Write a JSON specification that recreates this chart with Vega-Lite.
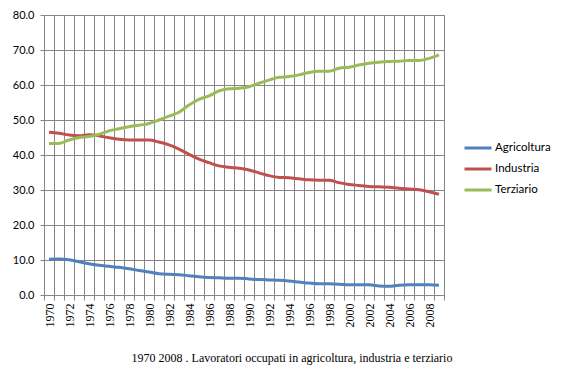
{
  "$schema": "https://vega.github.io/schema/vega-lite/v6.json",
  "autosize": {"type": "none"},
  "width": 400,
  "height": 280,
  "padding": {"left": 44, "top": 15, "right": 123, "bottom": 82},
  "background": "white",
  "config": {
    "view": {"stroke": "#868686", "strokeWidth": 1},
    "font": "Lato"
  },
  "title": {
    "text": "1970 2008 . Lavoratori occupati in agricoltura, industria e terziario",
    "orient": "bottom",
    "anchor": "middle",
    "dx": 48,
    "offset": 26,
    "font": "Liberation Serif",
    "fontSize": 12,
    "fontWeight": "normal",
    "color": "black"
  },
  "data": {
    "values": [
      {"anno": 1970, "Agricoltura": 10.2, "Industria": 46.5, "Terziario": 43.3},
      {"anno": 1971, "Agricoltura": 10.3, "Industria": 46.2, "Terziario": 43.3},
      {"anno": 1972, "Agricoltura": 10.1, "Industria": 45.7, "Terziario": 44.3},
      {"anno": 1973, "Agricoltura": 9.5, "Industria": 45.5, "Terziario": 45.0},
      {"anno": 1974, "Agricoltura": 8.9, "Industria": 45.8, "Terziario": 45.3},
      {"anno": 1975, "Agricoltura": 8.5, "Industria": 45.5, "Terziario": 45.9},
      {"anno": 1976, "Agricoltura": 8.2, "Industria": 44.9, "Terziario": 46.9},
      {"anno": 1977, "Agricoltura": 7.9, "Industria": 44.5, "Terziario": 47.5},
      {"anno": 1978, "Agricoltura": 7.5, "Industria": 44.3, "Terziario": 48.1},
      {"anno": 1979, "Agricoltura": 7.0, "Industria": 44.3, "Terziario": 48.5},
      {"anno": 1980, "Agricoltura": 6.6, "Industria": 44.3, "Terziario": 49.0},
      {"anno": 1981, "Agricoltura": 6.1, "Industria": 43.7, "Terziario": 50.0},
      {"anno": 1982, "Agricoltura": 5.9, "Industria": 42.9, "Terziario": 51.1},
      {"anno": 1983, "Agricoltura": 5.8, "Industria": 41.7, "Terziario": 52.2},
      {"anno": 1984, "Agricoltura": 5.5, "Industria": 40.2, "Terziario": 54.3},
      {"anno": 1985, "Agricoltura": 5.2, "Industria": 38.8, "Terziario": 55.9},
      {"anno": 1986, "Agricoltura": 5.0, "Industria": 37.8, "Terziario": 56.9},
      {"anno": 1987, "Agricoltura": 4.9, "Industria": 36.9, "Terziario": 58.3},
      {"anno": 1988, "Agricoltura": 4.8, "Industria": 36.5, "Terziario": 58.9},
      {"anno": 1989, "Agricoltura": 4.8, "Industria": 36.2, "Terziario": 59.1},
      {"anno": 1990, "Agricoltura": 4.6, "Industria": 35.7, "Terziario": 59.5},
      {"anno": 1991, "Agricoltura": 4.4, "Industria": 34.9, "Terziario": 60.5},
      {"anno": 1992, "Agricoltura": 4.3, "Industria": 34.1, "Terziario": 61.4},
      {"anno": 1993, "Agricoltura": 4.2, "Industria": 33.6, "Terziario": 62.2},
      {"anno": 1994, "Agricoltura": 4.0, "Industria": 33.5, "Terziario": 62.4},
      {"anno": 1995, "Agricoltura": 3.7, "Industria": 33.2, "Terziario": 62.9},
      {"anno": 1996, "Agricoltura": 3.4, "Industria": 32.9, "Terziario": 63.6},
      {"anno": 1997, "Agricoltura": 3.2, "Industria": 32.8, "Terziario": 63.9},
      {"anno": 1998, "Agricoltura": 3.2, "Industria": 32.8, "Terziario": 63.9},
      {"anno": 1999, "Agricoltura": 3.1, "Industria": 32.1, "Terziario": 64.8},
      {"anno": 2000, "Agricoltura": 2.9, "Industria": 31.6, "Terziario": 65.1},
      {"anno": 2001, "Agricoltura": 2.9, "Industria": 31.3, "Terziario": 65.7},
      {"anno": 2002, "Agricoltura": 2.9, "Industria": 31.0, "Terziario": 66.2},
      {"anno": 2003, "Agricoltura": 2.6, "Industria": 30.9, "Terziario": 66.5},
      {"anno": 2004, "Agricoltura": 2.5, "Industria": 30.8, "Terziario": 66.7},
      {"anno": 2005, "Agricoltura": 2.8, "Industria": 30.5, "Terziario": 66.8},
      {"anno": 2006, "Agricoltura": 2.9, "Industria": 30.3, "Terziario": 67.0},
      {"anno": 2007, "Agricoltura": 2.9, "Industria": 30.1, "Terziario": 67.0},
      {"anno": 2008, "Agricoltura": 2.9, "Industria": 29.5, "Terziario": 67.6},
      {"anno": 2009, "Agricoltura": 2.8, "Industria": 28.8, "Terziario": 68.6}
    ]
  },
  "transform": [
    {"fold": ["Agricoltura", "Industria", "Terziario"], "as": ["settore", "valore"]}
  ],
  "mark": {"type": "line", "strokeWidth": 3, "interpolate": "monotone"},
  "encoding": {
    "x": {
      "field": "anno",
      "type": "quantitative",
      "title": null,
      "scale": {"domain": [1969.5, 2009.5], "nice": false, "zero": false},
      "axis": {
        "values": [1969.5, 1970.5, 1971.5, 1972.5, 1973.5, 1974.5, 1975.5, 1976.5, 1977.5, 1978.5, 1979.5, 1980.5, 1981.5, 1982.5, 1983.5, 1984.5, 1985.5, 1986.5, 1987.5, 1988.5, 1989.5, 1990.5, 1991.5, 1992.5, 1993.5, 1994.5, 1995.5, 1996.5, 1997.5, 1998.5, 1999.5, 2000.5, 2001.5, 2002.5, 2003.5, 2004.5, 2005.5, 2006.5, 2007.5, 2008.5, 2009.5],
        "labelExpr": "(datum.value - 1969.5) % 2 == 0 && datum.value < 2009 ? format(datum.value + 0.5, 'd') : ''",
        "labelOffset": 5,
        "labelAngle": 270,
        "labelAlign": "right",
        "labelBaseline": "middle",
        "labelFont": "Liberation Serif",
        "labelFontSize": 12,
        "labelColor": "black",
        "labelPadding": 3,
        "labelOverlap": false,
        "labelBound": false,
        "labelFlush": false,
        "grid": true,
        "gridColor": "#868686",
        "gridOpacity": 1,
        "tickColor": "#868686",
        "tickSize": 5,
        "domainColor": "#868686"
      }
    },
    "y": {
      "field": "valore",
      "type": "quantitative",
      "title": null,
      "scale": {"domain": [0, 80], "nice": false},
      "axis": {
        "values": [0, 10, 20, 30, 40, 50, 60, 70, 80],
        "format": ".1f",
        "labelFont": "Lato",
        "labelFontSize": 11,
        "labelColor": "black",
        "labelPadding": 6,
        "grid": true,
        "gridColor": "#868686",
        "gridOpacity": 1,
        "tickColor": "#868686",
        "tickSize": 4,
        "domainColor": "#868686"
      }
    },
    "color": {
      "field": "settore",
      "type": "nominal",
      "scale": {
        "domain": ["Agricoltura", "Industria", "Terziario"],
        "range": ["#4F81BD", "#C0504D", "#9BBB59"]
      },
      "legend": {
        "title": null,
        "orient": "none",
        "legendX": 419,
        "legendY": 118,
        "padding": 0,
        "symbolType": "stroke",
        "symbolSize": 729,
        "symbolStrokeWidth": 3,
        "labelOffset": 2,
        "labelFont": "Lato",
        "labelFontSize": 11.5,
        "labelColor": "black",
        "rowPadding": -0.5
      }
    }
  }
}
